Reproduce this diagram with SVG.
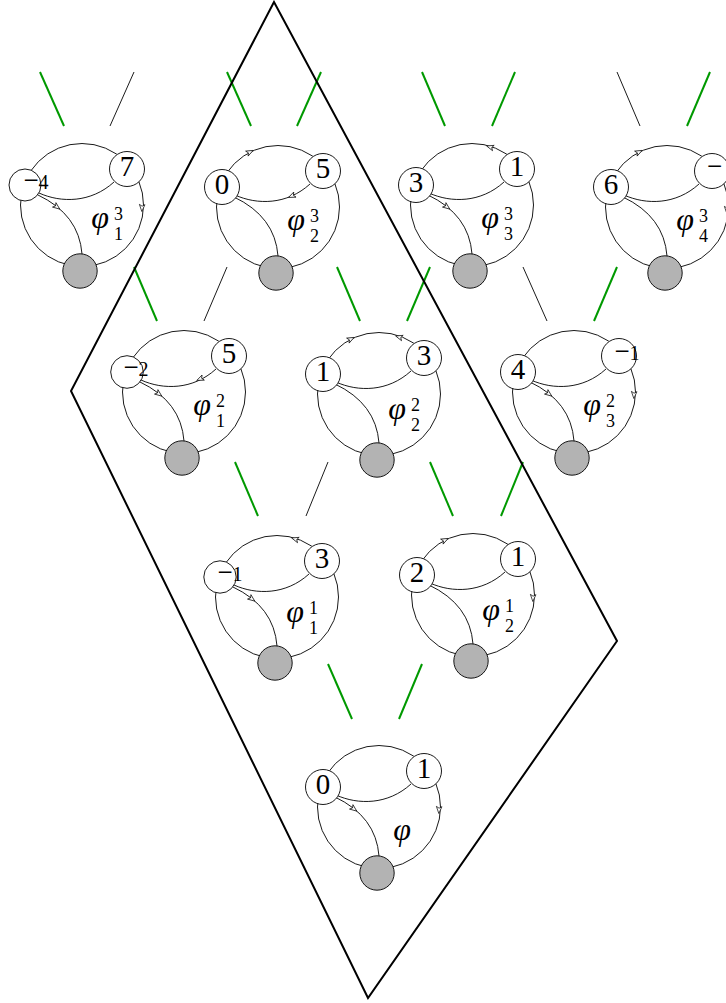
<svg xmlns="http://www.w3.org/2000/svg" xmlns:xlink="http://www.w3.org/1999/xlink" width="726" height="1003" viewBox="0 0 726 1003">
<style>
.e{fill:none;stroke:#000;stroke-width:0.9}
.w{fill:#fff;stroke:#000;stroke-width:0.9}
.g{fill:#b3b3b3;stroke:#000;stroke-width:0.9}
.n{font-family:'Liberation Serif',serif;font-size:29px;text-anchor:middle}
.s{font-family:'Liberation Serif',serif;font-size:20px;text-anchor:middle}
.m{font-size:27px}
.lab{font-family:'Liberation Serif',serif;font-style:italic;font-size:32px}
.scr{font-family:'Liberation Serif',serif;font-size:18px}
.cg{stroke:#009900;stroke-width:2;fill:none}
.cb{stroke:#000;stroke-width:0.9;fill:none}
.dia{fill:none;stroke:#000;stroke-width:2}
.ah{fill:#fff;stroke:#000;stroke-width:0.7;stroke-linejoin:miter}
</style>
<defs>
<path id="ah" class="ah" d="M3.5,0 L-3.5,-2.8 L-1.8,0 L-3.5,2.8 Z"/>
</defs>
<rect width="726" height="1003" fill="#fff"/>

<g id="connectors">
<line class="cg" x1="40" y1="72" x2="64" y2="126"/>
<line class="cb" x1="134" y1="72" x2="110" y2="126"/>
<line class="cg" x1="227" y1="72" x2="251" y2="126"/>
<line class="cg" x1="321" y1="72" x2="297" y2="126"/>
<line class="cg" x1="422" y1="72" x2="445" y2="126"/>
<line class="cg" x1="515" y1="72" x2="492" y2="126"/>
<line class="cb" x1="617" y1="72" x2="640" y2="126"/>
<line class="cg" x1="710" y1="72" x2="687" y2="126"/>
<line class="cg" x1="134" y1="267" x2="157" y2="321"/>
<line class="cb" x1="227" y1="267" x2="204" y2="321"/>
<line class="cg" x1="337" y1="267" x2="360" y2="321"/>
<line class="cg" x1="430" y1="267" x2="407" y2="321"/>
<line class="cb" x1="523" y1="267" x2="547" y2="321"/>
<line class="cg" x1="617" y1="267" x2="594" y2="321"/>
<line class="cg" x1="235" y1="462" x2="258" y2="516"/>
<line class="cb" x1="328" y1="462" x2="306" y2="516"/>
<line class="cg" x1="430" y1="462" x2="453" y2="516"/>
<line class="cg" x1="523" y1="462" x2="501" y2="516"/>
<line class="cg" x1="328" y1="664" x2="352" y2="719"/>
<line class="cg" x1="422" y1="664" x2="399" y2="719"/>
</g>

<g id="phi3_1" transform="translate(26,185)">
<circle class="e" cx="56" cy="20" r="61.5"/>
<path class="e" d="M13,8 C35,18 65,18 88,-3"/>
<path class="e" d="M12,10 Q53,29.5 56,69"/>
<use xlink:href="#ah" transform="translate(31,22) rotate(37.5)"/>
<use xlink:href="#ah" transform="translate(116,23) rotate(93)"/>
<circle class="w" cx="-1" cy="0" r="16"/>
<circle class="w" cx="101" cy="-16" r="17.5"/>
<circle class="g" cx="54" cy="86" r="17.2"/>
<text class="s" x="10" y="4"><tspan class="m">−</tspan>4</text>
<text class="n" x="101" y="-9.5">7</text>
<text class="lab" x="74" y="43" style="text-anchor:middle">φ</text>
<text class="scr" x="88" y="35">3</text>
<text class="scr" x="88" y="55">1</text>
</g>

<g id="phi3_2" transform="translate(222,187)">
<circle class="e" cx="56" cy="20" r="61.5"/>
<path class="e" d="M13,8 C35,18 65,18 88,-3"/>
<path class="e" d="M12,10 Q53,29.5 56,69"/>
<use xlink:href="#ah" transform="translate(28,-35) rotate(-27)"/>
<use xlink:href="#ah" transform="translate(69.7,9) rotate(156)"/>
<circle class="w" cx="0" cy="0" r="17.5"/>
<circle class="w" cx="101" cy="-16" r="17.5"/>
<circle class="g" cx="54" cy="86" r="17.2"/>
<text class="n" x="0" y="6.5">0</text>
<text class="n" x="101" y="-9.5">5</text>
<text class="lab" x="74" y="43" style="text-anchor:middle">φ</text>
<text class="scr" x="88" y="35">3</text>
<text class="scr" x="88" y="55">2</text>
</g>

<g id="phi3_3" transform="translate(416,185)">
<circle class="e" cx="56" cy="20" r="61.5"/>
<path class="e" d="M13,8 C35,18 65,18 88,-3"/>
<path class="e" d="M12,10 Q53,29.5 56,69"/>
<use xlink:href="#ah" transform="translate(74,-38) rotate(-163)"/>
<use xlink:href="#ah" transform="translate(31,22) rotate(37.5)"/>
<circle class="w" cx="0" cy="0" r="17.5"/>
<circle class="w" cx="101" cy="-16" r="17.5"/>
<circle class="g" cx="54" cy="86" r="17.2"/>
<text class="n" x="0" y="6.5">3</text>
<text class="n" x="101" y="-9.5">1</text>
<text class="lab" x="74" y="43" style="text-anchor:middle">φ</text>
<text class="scr" x="88" y="35">3</text>
<text class="scr" x="88" y="55">3</text>
</g>

<g id="phi3_4" transform="translate(611,187)">
<circle class="e" cx="56" cy="20" r="61.5"/>
<path class="e" d="M13,8 C35,18 65,18 88,-3"/>
<path class="e" d="M12,10 Q53,29.5 56,69"/>
<use xlink:href="#ah" transform="translate(28,-35) rotate(-27)"/>
<use xlink:href="#ah" transform="translate(116,23) rotate(93)"/>
<circle class="w" cx="0" cy="0" r="17.5"/>
<circle class="w" cx="101" cy="-16" r="17.5"/>
<circle class="g" cx="54" cy="86" r="17.2"/>
<text class="n" x="0" y="6.5">6</text>
<text class="s" x="96" y="-12" style="text-anchor:start"><tspan class="m">−</tspan></text>
<text class="lab" x="74" y="43" style="text-anchor:middle">φ</text>
<text class="scr" x="88" y="35">3</text>
<text class="scr" x="88" y="55">4</text>
</g>

<g id="phi2_1" transform="translate(128,372)">
<circle class="e" cx="56" cy="20" r="61.5"/>
<path class="e" d="M13,8 C35,18 65,18 88,-3"/>
<path class="e" d="M12,10 Q53,29.5 56,69"/>
<use xlink:href="#ah" transform="translate(72,7) rotate(156)"/>
<use xlink:href="#ah" transform="translate(31,22) rotate(37.5)"/>
<circle class="w" cx="-1" cy="0" r="16.3"/>
<circle class="w" cx="101" cy="-16" r="17.5"/>
<circle class="g" cx="54" cy="86" r="17.2"/>
<text class="s" x="8" y="4"><tspan class="m">−</tspan>2</text>
<text class="n" x="101" y="-9.5">5</text>
<text class="lab" x="74" y="43" style="text-anchor:middle">φ</text>
<text class="scr" x="88" y="35">2</text>
<text class="scr" x="88" y="55">1</text>
</g>

<g id="phi2_2" transform="translate(323,374)">
<circle class="e" cx="56" cy="20" r="61.5"/>
<path class="e" d="M13,8 C35,18 65,18 88,-3"/>
<path class="e" d="M12,10 Q53,29.5 56,69"/>
<use xlink:href="#ah" transform="translate(28,-35) rotate(-27)"/>
<use xlink:href="#ah" transform="translate(76,-37) rotate(-163)"/>
<circle class="w" cx="0" cy="0" r="17.5"/>
<circle class="w" cx="101" cy="-16" r="17.5"/>
<circle class="g" cx="54" cy="86" r="17.2"/>
<text class="n" x="0" y="6.5">1</text>
<text class="n" x="101" y="-9.5">3</text>
<text class="lab" x="74" y="45" style="text-anchor:middle">φ</text>
<text class="scr" x="88" y="37">2</text>
<text class="scr" x="88" y="57">2</text>
</g>

<g id="phi2_3" transform="translate(518,372)">
<circle class="e" cx="56" cy="20" r="61.5"/>
<path class="e" d="M13,8 C35,18 65,18 88,-3"/>
<path class="e" d="M12,10 Q53,29.5 56,69"/>
<use xlink:href="#ah" transform="translate(31,22) rotate(37.5)"/>
<use xlink:href="#ah" transform="translate(116,23) rotate(93)"/>
<circle class="w" cx="0" cy="0" r="17.5"/>
<circle class="w" cx="101" cy="-16" r="17.5"/>
<circle class="g" cx="54" cy="86" r="17.2"/>
<text class="n" x="0" y="6.5">4</text>
<text class="s" x="109" y="-12"><tspan class="m">−</tspan>1</text>
<text class="lab" x="74" y="43" style="text-anchor:middle">φ</text>
<text class="scr" x="88" y="35">2</text>
<text class="scr" x="88" y="55">3</text>
</g>

<g id="phi1_1" transform="translate(221,577)">
<circle class="e" cx="56" cy="20" r="61.5"/>
<path class="e" d="M13,8 C35,18 65,18 88,-3"/>
<path class="e" d="M12,10 Q53,29.5 56,69"/>
<use xlink:href="#ah" transform="translate(74,-38) rotate(-163)"/>
<use xlink:href="#ah" transform="translate(31,22) rotate(37.5)"/>
<circle class="w" cx="-1" cy="0" r="16.2"/>
<circle class="w" cx="101" cy="-16" r="17.5"/>
<circle class="g" cx="54" cy="86" r="17.2"/>
<text class="s" x="9" y="4"><tspan class="m">−</tspan>1</text>
<text class="n" x="101" y="-9.5">3</text>
<text class="lab" x="74" y="45" style="text-anchor:middle">φ</text>
<text class="scr" x="88" y="37">1</text>
<text class="scr" x="88" y="57">1</text>
</g>

<g id="phi1_2" transform="translate(417,575)">
<circle class="e" cx="56" cy="20" r="61.5"/>
<path class="e" d="M13,8 C35,18 65,18 88,-3"/>
<path class="e" d="M12,10 Q53,29.5 56,69"/>
<use xlink:href="#ah" transform="translate(28,-35) rotate(-27)"/>
<use xlink:href="#ah" transform="translate(116,23) rotate(93)"/>
<circle class="w" cx="0" cy="0" r="17.5"/>
<circle class="w" cx="101" cy="-16" r="17.5"/>
<circle class="g" cx="54" cy="86" r="17.2"/>
<text class="n" x="0" y="6.5">2</text>
<text class="n" x="101" y="-9.5">1</text>
<text class="lab" x="74" y="45" style="text-anchor:middle">φ</text>
<text class="scr" x="88" y="37">1</text>
<text class="scr" x="88" y="57">2</text>
</g>

<g id="phi" transform="translate(323,787)">
<circle class="e" cx="56" cy="20" r="61.5"/>
<path class="e" d="M13,8 C35,18 65,18 88,-3"/>
<path class="e" d="M12,10 Q53,29.5 56,69"/>
<use xlink:href="#ah" transform="translate(31,22) rotate(37.5)"/>
<use xlink:href="#ah" transform="translate(116,23) rotate(93)"/>
<circle class="w" cx="0" cy="0" r="17.5"/>
<circle class="w" cx="101" cy="-16" r="17.5"/>
<circle class="g" cx="54" cy="86" r="17.2"/>
<text class="n" x="0" y="6.5">0</text>
<text class="n" x="101" y="-9.5">1</text>
<text class="lab" x="79" y="53" style="text-anchor:middle">φ</text>
</g>

<g id="region">
<polygon class="dia" points="274,2 71,391 368,998 617,641"/>
</g>
</svg>
